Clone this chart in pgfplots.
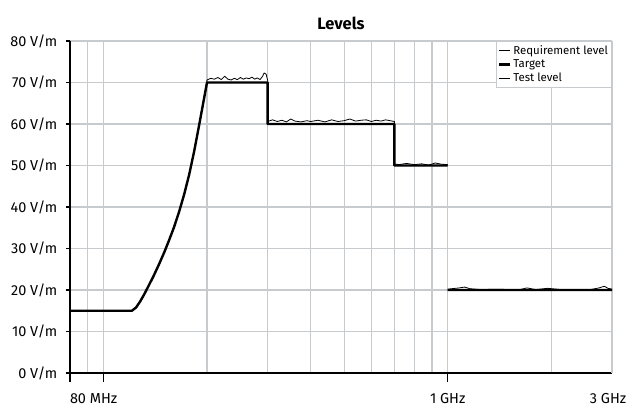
\documentclass[border=0pt]{standalone}
\usepackage{pgfplots}
\pgfplotsset{compat=1.18}
\usepackage{fontspec}
\setmainfont{Fira Sans}
\definecolor{gridgray}{RGB}{200,203,206}
\begin{document}
\begin{tikzpicture}
\begin{axis}[
  name=ax,
  scale only axis,
  width=542bp, height=332bp,
  xmode=log,
  xmin=80, xmax=3000,
  ymin=0, ymax=80,
  axis x line*=bottom,
  axis y line*=left,
  axis line style={black, line width=1.4bp},
  xtick={80,100,1000},
  xticklabels={\makebox[0pt][l]{80 MHz},,1 GHz},
  extra x ticks={3000},
  extra x tick labels={3 GHz},
  extra x tick style={xtick style={draw=none}, xmajorgrids=true, x tick label style={xshift=-4bp}},
  minor xtick={90,200,300,400,500,600,700,800,900,2000},
  xmajorgrids, xminorgrids,
  ymajorgrids,
  grid style={gridgray, line width=1.1bp},
  minor grid style={gridgray, line width=1.1bp},
  ytick={0,10,...,80},
  yticklabels={0 V/m,10 V/m,20 V/m,30 V/m,40 V/m,50 V/m,60 V/m,70 V/m,80 V/m},
  tick align=outside,
  xtick style={black, line width=1.2bp, /pgfplots/major tick length=9bp},
  ytick style={black, line width=1.2bp, /pgfplots/major tick length=4bp},
  minor tick length=0pt,
  x tick label style={font=\fontsize{14.5}{16}\selectfont, yshift=-13bp},
  y tick label style={font=\fontsize{14.5}{16}\selectfont, xshift=-5bp},
  title={\bfseries Levels},
  title style={font=\fontsize{16.5}{18}\selectfont, yshift=2bp},
  unbounded coords=jump,
  legend style={at={(rel axis cs:1,1)}, anchor=north east, draw=gridgray, line width=1bp,
    fill=white, font=\fontsize{11.5}{13}\selectfont, inner xsep=1.5bp, inner ysep=2bp,
    row sep=0bp, cells={anchor=west}},
  legend image code/.code={\draw[#1] (0bp,0bp) -- (11bp,0bp);},
  legend cell align=left,
]
% Requirement level (thin)
\addplot[black, line width=0.8bp, line join=round] coordinates {
(80,15) (121,15) (124.4,15.77) (127.8,17.2) (131.3,18.9) (135.7,21.2) (140.3,23.6) (145.1,26.2) (150.1,29.0) (155.2,32.0) (160.5,35.2) (166.0,38.9) (171.6,43.0) (177.5,47.8) (183.5,53.4) (189.8,59.8) (200,70) (300,70) (300,60) (700,60) (700,50) (1000,50) (1000,nan) (1000,20) (3000,20)
};
\addlegendentry{Requirement level}
% Target (thick)
\addplot[black, line width=2.4bp, line join=round] coordinates {
(80,15) (121,15) (124.4,15.77) (127.8,17.2) (131.3,18.9) (135.7,21.2) (140.3,23.6) (145.1,26.2) (150.1,29.0) (155.2,32.0) (160.5,35.2) (166.0,38.9) (171.6,43.0) (177.5,47.8) (183.5,53.4) (189.8,59.8) (200,70) (300,70) (300,60) (700,60) (700,50) (1000,50) (1000,nan) (1000,20) (3000,20)
};
\addlegendentry{Target}
% Test level (thin, wiggly)
\addplot[black, line width=0.8bp, line join=round] coordinates {
(80,15) (121,15) (124.4,15.77) (127.8,17.2) (131.3,18.9) (135.7,21.2) (140.3,23.6) (145.1,26.2) (150.1,29.0) (155.2,32.0) (160.5,35.2) (166.0,38.9) (171.6,43.0) (177.5,47.8) (183.5,53.4) (189.8,59.8) (200,70.6)
(205,71.0) (210,70.8) (215,71.2) (220,70.7) (225,71.5) (230,70.8) (235,70.6) (240,71.0) (245,70.7) (250,71.2) (255,70.8) (260,71.1) (265,70.9) (270,71.3) (275,70.8) (280,71.1) (285,70.7) (290,71.5) (293,72.3) (297,72.0) (300,70.5)
(300,60.6) (310,61.0) (320,60.6) (330,60.9) (340,60.5) (350,61.2) (360,60.7) (375,60.5) (390,60.8) (400,60.6) (420,60.9) (440,60.5) (460,61.0) (480,60.6) (500,60.8) (520,61.2) (540,60.7) (560,60.9) (580,61.0) (600,60.6) (620,60.9) (640,60.7) (660,61.0) (680,60.8) (700,60.6)
(700,50.4) (720,50.2) (760,50.5) (800,50.2) (840,50.4) (880,50.1) (920,50.6) (960,50.3) (1000,50.2)
(1000,nan)
(1000,20.2) (1080,20.5) (1120,20.7) (1160,20.3) (1250,20.1) (1400,20.2) (1600,20.0) (1700,20.5) (1800,20.1) (1950,20.4) (2200,20.0) (2600,20.1) (2750,20.5) (2850,20.9) (2920,20.4) (3000,20.2)
};
\addlegendentry{Test level}
\end{axis}
\pgfresetboundingbox
\path[use as bounding box] ([xshift=-70bp,yshift=-35bp]ax.south west) rectangle ([xshift=18bp,yshift=41bp]ax.north east);
\end{tikzpicture}
\end{document}
